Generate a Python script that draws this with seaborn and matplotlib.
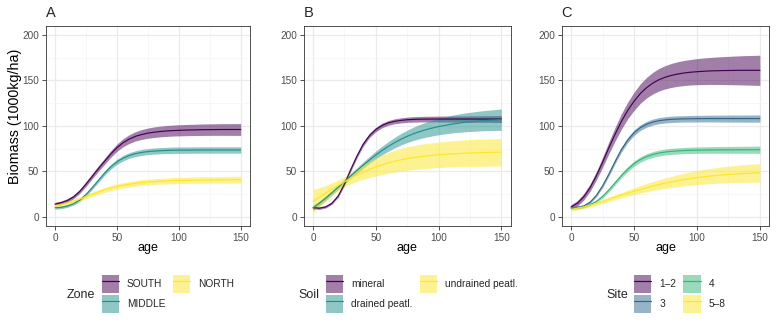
import numpy as np
import pandas as pd
import matplotlib
matplotlib.use("Agg")
import matplotlib.pyplot as plt
from matplotlib.patches import Patch
from matplotlib.lines import Line2D
from matplotlib.ticker import MultipleLocator
import seaborn as sns

# ---- fitted biomass curves (1000 kg/ha) and half-widths of their confidence bands ----
ages = [0, 5, 10, 15, 20, 25, 30, 35, 40, 45, 50, 55, 60, 65, 70, 75, 80, 85, 90, 95, 100,
        110, 120, 135, 150]

# Panel A: Zone
south_fit = [14, 15.5, 18, 22, 28, 36, 44.5, 53, 61, 69, 76, 81.5, 85.5, 88.5, 90.5, 92, 93,
             93.8, 94.4, 94.8, 95.1, 95.5, 95.8, 96, 96]
south_ci = [2, 2, 2, 2, 2.2, 2.5, 2.8, 3, 3.3, 3.6, 4, 4.4, 4.8, 5.1, 5.4, 5.6, 5.8, 5.9, 6, 6,
            6.1, 6.2, 6.3, 6.4, 6.5]
middle_fit = [10, 10.5, 12, 14.5, 18.5, 24.5, 32, 40, 48, 55, 60.5, 64.5, 67.5, 69.5, 70.8,
              71.7, 72.3, 72.7, 73, 73.2, 73.3, 73.4, 73.5, 73.5, 73.5]
middle_ci = [1.5, 1.5, 1.5, 1.5, 1.6, 1.8, 2, 2.2, 2.4, 2.6, 2.8, 3, 3.1, 3.2, 3.3, 3.3, 3.4,
             3.4, 3.4, 3.5, 3.5, 3.5, 3.5, 3.5, 3.5]
north_fit = [12, 13.3, 15, 17.2, 19.6, 22.2, 24.8, 27.3, 29.6, 31.6, 33.3, 34.7, 35.9, 36.9,
             37.7, 38.3, 38.8, 39.2, 39.5, 39.8, 40, 40.3, 40.5, 40.7, 40.9]
north_ci = [2.5, 2.4, 2.3, 2.3, 2.3, 2.4, 2.5, 2.6, 2.7, 2.8, 2.9, 3, 3, 3.1, 3.1, 3.2, 3.2,
            3.3, 3.3, 3.4, 3.4, 3.5, 3.6, 3.7, 3.8]

# Panel B: Soil
mineral_fit = [10, 9.6, 11, 15, 23, 36, 52, 67, 80, 89.5, 96, 100.5, 103.3, 105, 106, 106.7,
               107.1, 107.3, 107.4, 107.5, 107.5, 107.5, 107.5, 107.5, 107.5]
mineral_ci = [1.5, 1.3, 1.2, 1.2, 1.4, 1.6, 1.8, 2, 2.2, 2.3, 2.4, 2.5, 2.6, 2.7, 2.8, 2.9, 3,
              3, 3.1, 3.1, 3.2, 3.3, 3.4, 3.6, 3.8]
drained_fit = [10, 15, 20.5, 26.5, 32.6, 38.8, 45, 51, 56.9, 62.6, 68, 73, 77.5, 81.6, 85.3,
               88.5, 91.3, 93.7, 95.8, 97.6, 99.2, 101.8, 103.7, 105.6, 106.8]
drained_ci = [3, 2.8, 2.7, 2.6, 2.6, 2.7, 2.9, 3.2, 3.5, 3.9, 4.3, 4.8, 5.3, 5.8, 6.3, 6.8,
              7.3, 7.8, 8.2, 8.6, 9, 9.7, 10.3, 11, 11.7]
undrained_fit = [17, 21.5, 26, 30.4, 34.6, 38.6, 42.4, 45.9, 49.2, 52.2, 54.9, 57.2, 59.3,
                 61.1, 62.7, 64, 65.1, 66.1, 66.9, 67.6, 68.2, 69.2, 69.9, 70.6, 71.1]
undrained_ci = [13, 10.5, 8.5, 7, 6, 5.5, 6, 7, 8, 9, 10, 10.8, 11.4, 12, 12.5, 12.9, 13.2,
                13.5, 13.7, 13.9, 14, 14.3, 14.6, 15, 15]

# Panel C: Site
s12_fit = [11, 15, 22, 32, 45, 60, 76, 91, 105, 117, 127, 135.5, 142, 147, 150.8, 153.5,
           155.5, 157, 158.1, 158.9, 159.5, 160.3, 160.7, 161, 161]
s12_ci = [2.5, 3, 3.5, 4, 4.5, 5.5, 6.5, 7.5, 8.5, 9.2, 10, 10.7, 11.3, 11.9, 12.4, 12.8,
          13.2, 13.5, 13.8, 14, 14.3, 14.8, 15.3, 16, 16.6]
s3_fit = [10, 10.5, 12, 16, 23.5, 34, 47, 61, 74, 84.5, 92.5, 98, 101.8, 104.2, 105.7, 106.6,
          107.2, 107.5, 107.7, 107.8, 107.9, 108, 108, 108, 108]
s3_ci = [1.5, 1.3, 1.2, 1.3, 1.5, 1.8, 2.1, 2.4, 2.6, 2.8, 3, 3.1, 3.2, 3.3, 3.4, 3.4, 3.5,
         3.5, 3.5, 3.6, 3.6, 3.7, 3.8, 3.9, 4]
s4_fit = [9.5, 10, 11, 13.3, 17, 22.5, 29.5, 37.5, 45.5, 52.5, 58.5, 63, 66.3, 68.6, 70.2,
          71.3, 72, 72.5, 72.9, 73.1, 73.3, 73.5, 73.6, 73.7, 73.8]
s4_ci = [1.5, 1.3, 1.2, 1.3, 1.5, 1.8, 2, 2.3, 2.5, 2.7, 2.9, 3, 3.1, 3.2, 3.3, 3.3, 3.4, 3.4,
         3.4, 3.5, 3.5, 3.6, 3.7, 3.8, 4]
s58_fit = [8, 9.5, 11, 12.8, 14.8, 17, 19.3, 21.6, 23.9, 26.1, 28.2, 30.2, 32.1, 33.9, 35.6,
           37.1, 38.5, 39.8, 41, 42.1, 43.1, 44.8, 46.1, 47.5, 48.4]
s58_ci = [1.8, 1.7, 1.7, 1.8, 2, 2.2, 2.5, 2.8, 3.1, 3.4, 3.8, 4.2, 4.6, 5, 5.4, 5.8, 6.2,
          6.6, 7, 7.4, 7.7, 8.3, 8.9, 9.6, 10.2]

zone_levels = ["SOUTH", "MIDDLE", "NORTH"]
soil_levels = ["mineral", "drained peatl.", "undrained peatl."]
site_levels = ["1\u20132", "3", "4", "5\u20138"]

panels = [
    ("A", "Zone", zone_levels,
     [(south_fit, south_ci), (middle_fit, middle_ci), (north_fit, north_ci)]),
    ("B", "Soil", soil_levels,
     [(mineral_fit, mineral_ci), (drained_fit, drained_ci), (undrained_fit, undrained_ci)]),
    ("C", "Site", site_levels,
     [(s12_fit, s12_ci), (s3_fit, s3_ci), (s4_fit, s4_ci), (s58_fit, s58_ci)]),
]

sns.set_theme(style="whitegrid")
plt.rcParams["font.family"] = ["Liberation Sans", "DejaVu Sans"]

W, H = 779, 328
fig = plt.figure(figsize=(W / 100, H / 100), dpi=100)

# axes boxes in pixels: (left, top, right, bottom)
boxes = [(45.7, 25.7, 250.0, 226.0),
         (303.7, 25.7, 510.7, 226.0),
         (561.7, 25.7, 769.3, 226.0)]
legend_pos = [  # (title x, key-block left, top)
    (67, 101.7, 275),
    (298, 325.7, 275),
    (606, 634.0, 275),
]

band_alpha = 0.5
line_w = 0.85
tick_size = 7.2
title_size = 9.0
leg_size = 7.3

for (tag, var, levels, series), box, lpos in zip(panels, boxes, legend_pos):
    l, t, r, b = box
    ax = fig.add_axes([l / W, 1 - b / H, (r - l) / W, (b - t) / H])
    if len(levels) == 3:
        pal = ["#440154", "#21908C", "#FDE725"]
    else:
        pal = ["#440154", "#31688E", "#35B779", "#FDE725"]

    frames = []
    for lev, (fit, ci) in zip(levels, series):
        fit_a = np.asarray(fit, float)
        ci_a = np.asarray(ci, float)
        frames.append(pd.DataFrame({"age": ages, "fit": fit_a, "lo": fit_a - ci_a,
                                    "hi": fit_a + ci_a, var: lev}))
    df = pd.concat(frames, ignore_index=True)

    for lev, col in zip(levels, pal):
        d = df[df[var] == lev]
        ax.fill_between(d["age"], d["lo"], d["hi"], color=col, alpha=band_alpha, lw=0)
    sns.lineplot(data=df, x="age", y="fit", hue=var, hue_order=levels, palette=pal,
                 ax=ax, legend=False, lw=line_w, sort=False)

    ax.set_xlim(-7.5, 157.5)
    ax.set_ylim(-10, 210)
    ax.xaxis.set_major_locator(MultipleLocator(50))
    ax.yaxis.set_major_locator(MultipleLocator(50))
    ax.xaxis.set_minor_locator(MultipleLocator(25))
    ax.yaxis.set_minor_locator(MultipleLocator(25))
    ax.set_facecolor("white")
    ax.grid(True, which="major", color="#EBEBEB", lw=0.9)
    ax.grid(True, which="minor", color="#F4F4F4", lw=0.5)
    ax.set_axisbelow(True)
    for s in ax.spines.values():
        s.set_color("#333333")
        s.set_linewidth(0.6)
    ax.tick_params(axis="both", which="major", length=2.8, width=0.6, color="#333333",
                   labelsize=tick_size, labelcolor="#4D4D4D", pad=2, bottom=True, left=True)
    ax.tick_params(axis="both", which="minor", length=0)
    ax.set_xlabel("age", fontsize=title_size, color="black")
    ax.xaxis.set_label_coords(0.5, (226 - 248.5) / (b - t), transform=ax.transAxes)
    ax.xaxis.label.set_va("center")
    if tag == "A":
        ax.set_ylabel("Biomass (1000kg/ha)", fontsize=10.3, color="black")
        ax.yaxis.set_label_coords((14.5 - l) / (r - l), (b - 116.7) / (b - t),
                                  transform=ax.transAxes)
        ax.yaxis.label.set_va("center")
    else:
        ax.set_ylabel("")
    ax.text(0.0, 1 + (t - 13.5) / (b - t), tag, transform=ax.transAxes, fontsize=10.5,
            ha="left", va="center")

    # legend below each panel: translucent key with the fitted line through it
    handles = [(Patch(facecolor=c, alpha=band_alpha, edgecolor="none"),
                Line2D([], [], color=c, lw=line_w)) for c in pal]
    tx, kx, ky = lpos
    fig.legend(handles, levels, loc="upper left",
               bbox_to_anchor=(kx / W, 1 - ky / H), ncol=2, frameon=False,
               fontsize=leg_size, handlelength=1.7, handleheight=2.31,
               labelspacing=0.23, handletextpad=0.79, columnspacing=0.72,
               borderpad=0, borderaxespad=0)
    fig.text(tx / W, 1 - 295 / H, var, fontsize=title_size, ha="left", va="center")

fig.savefig("out.png", dpi=100)
